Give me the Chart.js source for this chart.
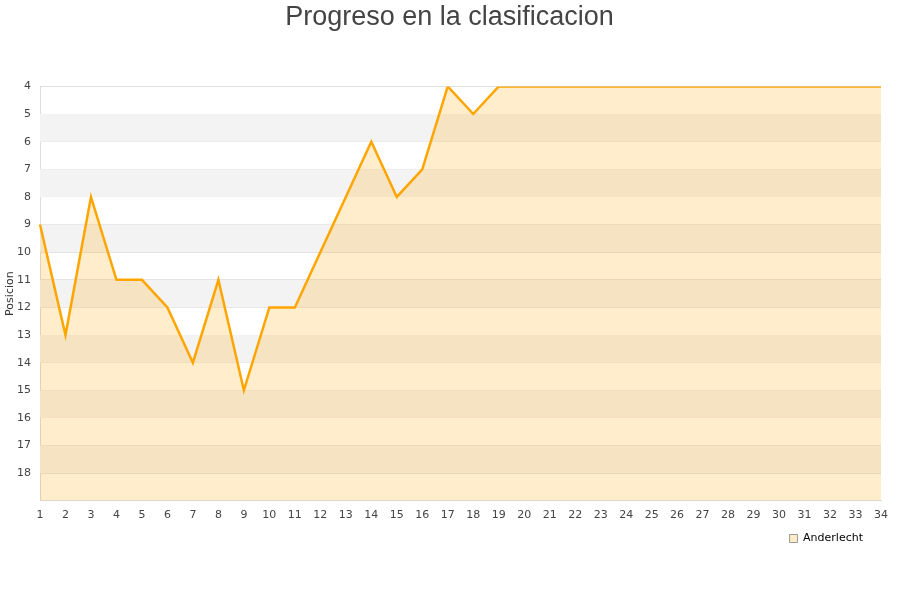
<!DOCTYPE html>
<html>
<head>
<meta charset="utf-8">
<script src="https://cdn.jsdelivr.net/npm/chart.js@4"></script>
<style>
  html, body { margin: 0; padding: 0; background: #fff; }
  #wrap { width: 900px; height: 600px; position: relative; }
</style>
</head>
<body>
<div id="wrap"><canvas id="chartCanvas"></canvas></div>
<script>
// jornadas and posicion per jornada
var jornadas = ['1','2','3','4','5','6','7','8','9','10','11','12','13','14','15','16','17',
  '18','19','20','21','22','23','24','25','26','27','28','29','30','31','32','33','34'];
var posiciones = [9, 13, 8, 11, 11, 12, 14, 11, 15, 12, 12, 10, 8, 6, 8, 7, 4, 5, 4,
  4, 4, 4, 4, 4, 4, 4, 4, 4, 4, 4, 4, 4, 4, 4];
var equipo = 'Anderlecht';
var yMin = 4, yMax = 19;

// alternating background bands
var bandPlugin = {
  id: 'bands',
  afterLayout: function(chart) {
    // nudge legend left and title right like the original
    chart.legend.left -= 8;
    chart.legend.right -= 8;
    chart.titleBlock.left += 9;
    chart.titleBlock.right += 9;
  },
  beforeDatasetsDraw: function(chart) {
    var ctx = chart.ctx, area = chart.chartArea, y = chart.scales.y;
    ctx.save();
    for (var v = yMin; v < yMax; v++) {
      if (v % 2 === 1) {
        var top = y.getPixelForValue(v), bot = y.getPixelForValue(v + 1);
        ctx.fillStyle = '#f3f3f3';
        ctx.fillRect(area.left, top, area.right - area.left, bot - top);
      }
    }
    ctx.restore();
  }
};

var ctx = document.getElementById('chartCanvas').getContext('2d');
new Chart(ctx, {
  type: 'line',
  data: {
    labels: jornadas,
    datasets: [{
      label: equipo,
      data: posiciones,
      borderColor: '#ffa500',
      backgroundColor: 'rgba(255,165,0,0.2)',
      borderWidth: 2.5,
      pointRadius: 0,
      tension: 0,
      fill: 'start'
    }]
  },
  options: {
    responsive: true,
    maintainAspectRatio: false,
    animation: false,
    layout: { padding: { left: 0, right: 19, top: 0, bottom: 46 } },
    plugins: {
      title: {
        display: true,
        text: 'Progreso en la clasificacion',
        color: '#444',
        font: { family: 'Liberation Sans', size: 27, weight: 'normal' },
        padding: { top: 1, bottom: 53 }
      },
      legend: {
        position: 'bottom',
        align: 'end',
        labels: {
          boxWidth: 8, boxHeight: 8,
          padding: 10,
          color: '#111',
          font: { family: 'DejaVu Sans', size: 11 },
          generateLabels: function(chart) {
            return [{ text: equipo, fillStyle: '#fdecc8', strokeStyle: '#999', lineWidth: 1 }];
          }
        }
      },
      tooltip: { enabled: false }
    },
    scales: {
      x: {
        offset: false,
        grid: { display: false, drawTicks: false },
        border: { color: '#ddd' },
        afterFit: function(scale) { scale.height -= 7; },
        ticks: { color: '#444', padding: 8, font: { family: 'DejaVu Sans', size: 11 }, maxRotation: 0, autoSkip: false }
      },
      y: {
        reverse: true,
        min: yMin,
        max: yMax,
        grid: { color: '#e0e0e0', drawTicks: false },
        border: { color: '#ddd' },
        afterFit: function(scale) { scale.width = 40; },
        title: { display: true, text: 'Posicion', color: '#333', font: { family: 'DejaVu Sans', size: 11 }, padding: { top: 4, bottom: 0 } },
        ticks: {
          stepSize: 1,
          padding: 9,
          color: '#444',
          font: { family: 'DejaVu Sans', size: 11 },
          callback: function(v) { return v === yMax ? '' : v; }
        }
      }
    }
  },
  plugins: [bandPlugin]
});
</script>
</body>
</html>
